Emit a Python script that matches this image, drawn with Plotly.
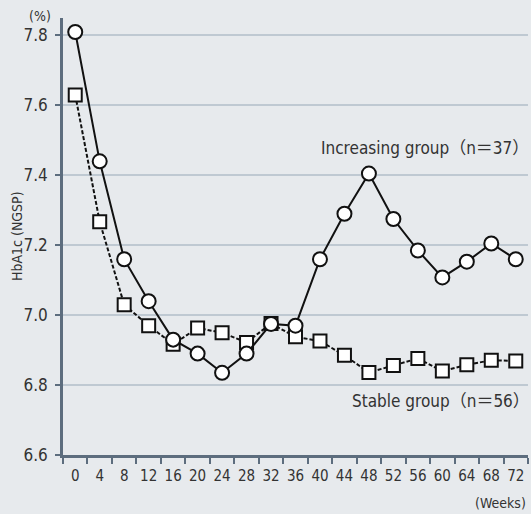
import plotly.graph_objects as go

weeks = [0, 4, 8, 12, 16, 20, 24, 28, 32, 36, 40, 44, 48, 52, 56, 60, 64, 68, 72]
week_labels = [str(w) for w in weeks]
increasing = [7.81, 7.44, 7.16, 7.04, 6.93, 6.89, 6.835, 6.89, 6.975, 6.97,
              7.16, 7.29, 7.405, 7.275, 7.185, 7.108, 7.153, 7.205, 7.16]
stable = [7.63, 7.267, 7.03, 6.97, 6.917, 6.963, 6.95, 6.922, 6.976, 6.938,
          6.926, 6.885, 6.836, 6.856, 6.876, 6.84, 6.858, 6.871, 6.869]
y_ticks = [6.6, 6.8, 7.0, 7.2, 7.4, 7.6, 7.8]
y_tick_text = ["6.6", "6.8", "7.0", "7.2", "7.4", "7.6", "7.8"]

BG = "#e7eaed"
AXIS = "#5d6d7e"
GRID = "#bfc9d2"
FONT = "Liberation Sans Narrow, DejaVu Sans Condensed, Noto Sans CJK JP, sans-serif"

fig = go.Figure()
fig.add_trace(go.Scatter(
    x=week_labels, y=stable, mode="lines+markers",
    line=dict(color="#111111", width=2, dash="4px,2px"),
    marker=dict(symbol="square", size=13, color="white",
                line=dict(color="#111111", width=2)),
    showlegend=False, cliponaxis=False, hoverinfo="skip"))
fig.add_trace(go.Scatter(
    x=week_labels, y=increasing, mode="lines+markers",
    line=dict(color="#111111", width=2),
    marker=dict(symbol="circle", size=14, color="white",
                line=dict(color="#111111", width=2)),
    showlegend=False, cliponaxis=False, hoverinfo="skip"))

fig.update_layout(
    width=531, height=514,
    margin=dict(l=63, r=3, t=18, b=59),
    paper_bgcolor=BG, plot_bgcolor=BG,
    font=dict(family=FONT, color="#333333", size=16),
    xaxis=dict(
        type="category", tickson="boundaries", ticks="outside",
        ticklen=6, tickwidth=1.5, tickcolor=AXIS, tickangle=0,
        showline=True, linecolor=AXIS, linewidth=2.5,
        showgrid=False, zeroline=False, automargin=False,
        tickfont=dict(size=15, color="#333333", family=FONT),
        range=[-0.5, 18.5], fixedrange=True, ticklabelstandoff=5,
    ),
    yaxis=dict(
        range=[6.6, 7.85], tickvals=y_ticks, ticktext=y_tick_text,
        ticks="outside", ticklen=5, tickwidth=1.5, tickcolor=AXIS,
        showline=True, linecolor=AXIS, linewidth=2.5,
        showgrid=True, gridcolor=GRID, gridwidth=1.5,
        zeroline=False, automargin=False, fixedrange=True,
        tickfont=dict(size=17, color="#333333", family=FONT),
        ticklabelstandoff=4,
    ),
    annotations=[
        dict(text="(%)", xref="paper", yref="paper", x=-0.022, y=1.005,
             xanchor="right", yanchor="middle", showarrow=False,
             font=dict(size=14, color="#333333", family=FONT)),
        dict(text="(Weeks)", xref="paper", yref="paper", x=1.0, y=-0.088,
             xanchor="right", yanchor="top", showarrow=False,
             font=dict(size=14, color="#333333", family=FONT)),
        dict(text="HbA1c (NGSP)", xref="paper", yref="paper", x=-0.1, y=0.5,
             xanchor="center", yanchor="middle", textangle=-90, showarrow=False,
             font=dict(size=14, color="#333333", family=FONT)),
        dict(text="Increasing group（n＝37）", xref="paper", yref="paper",
             x=1.0, y=0.703, xanchor="right", yanchor="middle", showarrow=False,
             xshift=3,
             font=dict(size=17, color="#333333", family=FONT)),
        dict(text="Stable group（n＝56）", xref="paper", yref="paper",
             x=0.995, y=0.124, xanchor="right", yanchor="middle", showarrow=False,
             xshift=6,
             font=dict(size=17, color="#333333", family=FONT)),
    ],
)
fig.write_html("out.html", config={"displayModeBar": False},
               post_script="document.body.style.margin='0';document.body.style.overflow='hidden';document.body.style.background='" + BG + "';")
